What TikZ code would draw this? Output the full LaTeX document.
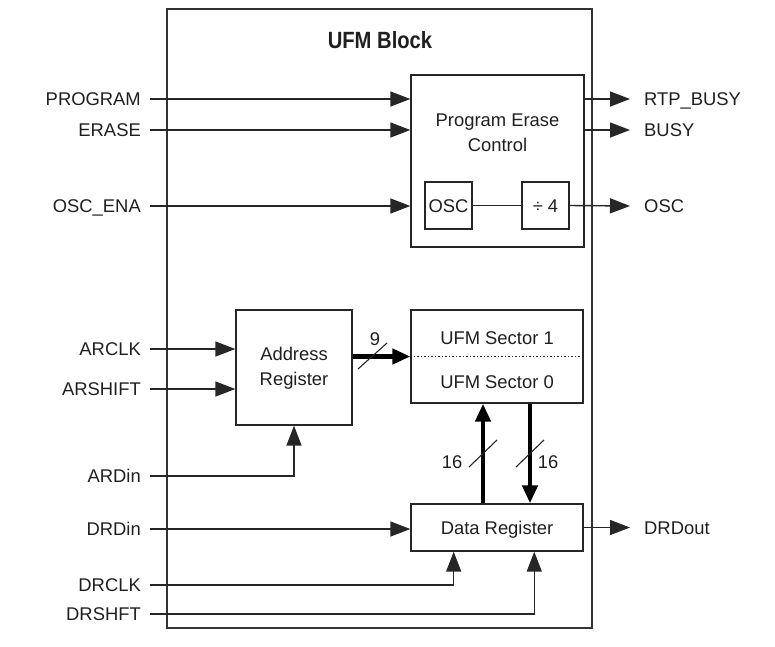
\documentclass[tikz,border=0pt]{standalone}
\usepackage{fontspec}
\setmainfont{Liberation Sans}
\usetikzlibrary{arrows.meta,calc}
\tikzset{
  box/.style={draw=black!85, line width=1.3pt, inner sep=0pt, rectangle},
  lbl/.style={inner ysep=0pt, text height=13.2pt, text depth=0pt, font=\fontsize{18.4}{22}\selectfont, text=black!88},
  inlbl/.style={lbl, anchor=east, inner xsep=9pt},
  outlbl/.style={lbl, anchor=west, inner xsep=14pt},
  btxt/.style={align=center, font=\fontsize{18.4}{25}\selectfont, text=black!88, inner sep=0pt},
  wire/.style={draw=black!85, line width=1.4pt},
  arr/.style={wire, -{Triangle[length=20pt,width=15pt]}},
  bus/.style={draw=black, line width=4.4pt, -{Triangle[length=18pt,width=15pt]}},
  slash/.style={draw=black!85, line width=1.1pt},
  small/.style={font=\fontsize{18.4}{22}\selectfont, text=black!88, inner sep=0pt}
}
\begin{document}
\begin{tikzpicture}[x=1pt,y=-1pt]
\useasboundingbox (0,0) rectangle (775,646);
% outer frame
\node[box, draw=black!80, line width=1.4pt, minimum width=425pt, minimum height=619pt] (frame) at (379.5,318.5) {};
\node[font=\fontsize{23.5}{28}\selectfont\bfseries, text=black!88, inner sep=0pt] (title) at (380,40) {\scalebox{0.86}[1]{UFM Block}};
% blocks
\node[box, minimum width=173pt, minimum height=172pt] (pec) at (497.5,161) {};
\node[btxt] (pectxt) at (497.5,133) {Program Erase\\Control};
\node[box, minimum width=47pt, minimum height=47pt, lbl, inner sep=0pt] (osc) at (448.5,205.5) {OSC};
\node[box, minimum width=47pt, minimum height=47pt, lbl, inner sep=0pt] (div) at (545.5,205.5) {÷ 4};
\node[box, minimum width=116pt, minimum height=115pt] (addr) at (294,367.5) {};
\node[btxt] (addrtxt) at (294,368) {Address\\Register};
\node[box, minimum width=172pt, minimum height=93pt] (sec) at (497,356.5) {};
\node[lbl, inner sep=0pt] (sec1) at (497,338) {UFM Sector 1};
\node[lbl, inner sep=0pt] (sec0) at (497,382) {UFM Sector 0};
\draw[draw=black!85, line width=1pt, dash pattern=on 1.5pt off 2pt] (sec.west) -- (sec.east);
\node[box, minimum width=172pt, minimum height=47pt, lbl] (dr) at (497,527.5) {Data Register};
% input labels
\node[inlbl] (prog) at (150,99) {PROGRAM};
\node[inlbl] (erase) at (150,130) {ERASE};
\node[inlbl] (oscena) at (150,206) {OSC\_ENA};
\node[inlbl] (arclk) at (150,349) {ARCLK};
\node[inlbl] (arshift) at (150,389) {ARSHIFT};
\node[inlbl] (ardin) at (150,476) {ARDin};
\node[inlbl] (drdin) at (150,529) {DRDin};
\node[inlbl] (drclk) at (150,585) {DRCLK};
\node[inlbl] (drshft) at (150,614) {DRSHFT};
% output labels
\node[outlbl] (rtp) at (630,99) {RTP\_BUSY};
\node[outlbl] (busy) at (630,130) {BUSY};
\node[outlbl] (oscout) at (630,206) {OSC};
\node[outlbl] (drdout) at (630,527.5) {DRDout};
% input wires
\draw[arr] (prog.east) -- (prog.east -| pec.west);
\draw[arr] (erase.east) -- (erase.east -| pec.west);
\draw[arr] (oscena.east) -- (oscena.east -| pec.west);
\draw[wire] (osc.east) -- (div.west);
\draw[arr] (arclk.east) -- (arclk.east -| addr.west);
\draw[arr] (arshift.east) -- (arshift.east -| addr.west);
\draw[arr] (ardin.east) -| (addr.south);
\draw[arr] (drdin.east) -- (drdin.east -| dr.west);
\coordinate (clkin) at ($(dr.south west)!0.25!(dr.south east)$);
\coordinate (shin) at ($(dr.south west)!0.715!(dr.south east)$);
\draw[arr] (drclk.east) -| (clkin);
\draw[arr] (drshft.east) -| (shin);
% output wires
\draw[arr] (rtp.west -| pec.east) -- (rtp.west);
\draw[arr] (busy.west -| pec.east) -- (busy.west);
\draw[arr] (div.east) -- (oscout.west);
\draw[arr] (dr.east) -- (drdout.west);
% buses
\draw[bus] (sec.west -| addr.east) -- (sec.west);
\draw[slash] (372.5,356) +(-14.5,13) -- +(14.5,-13);
\node[small] (n9) at (375,339) {9};
\coordinate (upx) at (483,0);
\coordinate (dnx) at (530,0);
\draw[bus] (dr.north -| upx) -- (sec.south -| upx);
\draw[bus] (sec.south -| dnx) -- (dr.north -| dnx);
\draw[slash] (483,453.5) +(-14,13.5) -- +(14,-13.5);
\draw[slash] (530,453.5) +(-14,13.5) -- +(14,-13.5);
\node[small] (n16a) at (452,462) {16};
\node[small] (n16b) at (548,462) {16};
\end{tikzpicture}
\end{document}
